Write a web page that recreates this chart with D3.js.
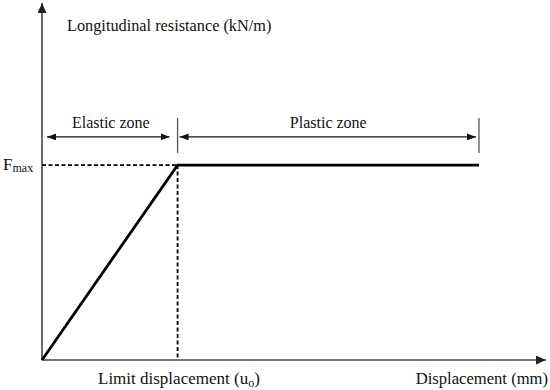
<!DOCTYPE html>
<html>
<head>
<meta charset="utf-8">
<script src="https://cdn.jsdelivr.net/npm/d3@7"></script>
<style>
  body { margin: 0; background: #fff; }
</style>
</head>
<body>
<div id="chart"></div>
<script>
// curve: bilinear elasto-plastic law (arbitrary units)
var dispValues = [0, 2.69, 8.67];
var forceValues = [0, 5.46, 5.46];
var limitDisp = 2.69;
var fMax = 5.46;
// zone bounds along the displacement axis
var zoneNames = ["Elastic zone", "Plastic zone"];
var zoneStart = [0, 2.69];
var zoneEnd = [2.69, 8.67];
var zoneLevel = 6.25;

var width = 550, height = 390;
var serif = "Liberation Serif";

var svg = d3.select("#chart").append("svg")
  .attr("width", width)
  .attr("height", height);

var x = d3.scaleLinear().domain([0, 10]).range([42, 546]);
var y = d3.scaleLinear().domain([0, 10]).range([360, 3]);

var defs = svg.append("defs");
function marker(id, color, w, h) {
  defs.append("marker")
    .attr("id", id)
    .attr("viewBox", "0 0 10 10")
    .attr("refX", 10).attr("refY", 5)
    .attr("markerWidth", w).attr("markerHeight", h)
    .attr("markerUnits", "userSpaceOnUse")
    .attr("orient", "auto-start-reverse")
    .attr("preserveAspectRatio", "none")
    .append("path")
    .attr("d", "M0,0L10,5L0,10z")
    .attr("fill", color);
}
marker("arrAxis", "#222", 10, 9);
marker("arrZone", "#111", 9, 7);

// axes
svg.append("line")
  .attr("x1", x(0)).attr("y1", y(0))
  .attr("x2", x(0)).attr("y2", y(10))
  .attr("stroke", "#444").attr("stroke-width", 1.6)
  .attr("marker-end", "url(#arrAxis)");
svg.append("line")
  .attr("x1", x(0)).attr("y1", y(0))
  .attr("x2", x(10)).attr("y2", y(0))
  .attr("stroke", "#444").attr("stroke-width", 1.6)
  .attr("marker-end", "url(#arrAxis)");

// dashed guides
svg.append("line")
  .attr("x1", x(0)).attr("y1", y(fMax))
  .attr("x2", x(limitDisp)).attr("y2", y(fMax))
  .attr("stroke", "#000").attr("stroke-width", 1.8)
  .attr("stroke-dasharray", "4,2.5");
svg.append("line")
  .attr("x1", x(limitDisp)).attr("y1", y(fMax))
  .attr("x2", x(limitDisp)).attr("y2", y(0))
  .attr("stroke", "#000").attr("stroke-width", 1.8)
  .attr("stroke-dasharray", "4,2.5");

// curve
var pts = dispValues.map(function(d, i) { return [d, forceValues[i]]; });
var line = d3.line()
  .x(function(d) { return x(d[0]); })
  .y(function(d) { return y(d[1]); });
svg.append("path")
  .datum(pts)
  .attr("d", line)
  .attr("fill", "none")
  .attr("stroke", "#000")
  .attr("stroke-width", 2.8)
  .attr("stroke-linejoin", "miter");

// zone markers
zoneNames.forEach(function(name, i) {
  var x0 = x(zoneStart[i]), x1 = x(zoneEnd[i]);
  var yy = y(zoneLevel);
  svg.append("line")
    .attr("x1", x0 + (i == 0 ? 5 : 2)).attr("y1", yy)
    .attr("x2", x1 - (i == 0 ? 8 : 3)).attr("y2", yy)
    .attr("stroke", "#111").attr("stroke-width", 1.2)
    .attr("marker-start", "url(#arrZone)")
    .attr("marker-end", "url(#arrZone)");
  svg.append("text")
    .attr("x", (x0 + x1) / 2 + (i == 0 ? 1 : 0))
    .attr("y", yy - 9)
    .attr("text-anchor", "middle")
    .attr("font-family", serif)
    .attr("font-size", 16)
    .attr("fill", "#111")
    .text(name);
});
// vertical ticks at zone bounds
[zoneStart[1], zoneEnd[1]].forEach(function(v) {
  svg.append("line")
    .attr("x1", x(v)).attr("x2", x(v))
    .attr("y1", y(zoneLevel) - 19).attr("y2", y(zoneLevel) + 16)
    .attr("stroke", "#555").attr("stroke-width", 1.3);
});

// labels
svg.append("text")
  .attr("x", 67).attr("y", 31)
  .attr("font-family", serif)
  .attr("font-size", 16.3)
  .attr("fill", "#111")
  .text("Longitudinal resistance (kN/m)");

var fm = svg.append("text")
  .attr("x", 3).attr("y", y(fMax) + 5)
  .attr("font-family", serif)
  .attr("font-size", 17)
  .attr("fill", "#111");
fm.append("tspan").text("F");
fm.append("tspan").attr("font-size", 12).attr("dy", 2).text("max");

var ld = svg.append("text")
  .attr("x", 98).attr("y", 384)
  .attr("font-family", serif)
  .attr("font-size", 17)
  .attr("fill", "#111");
ld.append("tspan").text("Limit displacement (u");
ld.append("tspan").attr("font-size", 12).attr("dy", 3).text("o");
ld.append("tspan").attr("dy", -3).text(")");

svg.append("text")
  .attr("x", 548).attr("y", 384)
  .attr("text-anchor", "end")
  .attr("font-family", serif)
  .attr("font-size", 16.6)
  .attr("fill", "#111")
  .text("Displacement (mm)");
</script>
</body>
</html>
